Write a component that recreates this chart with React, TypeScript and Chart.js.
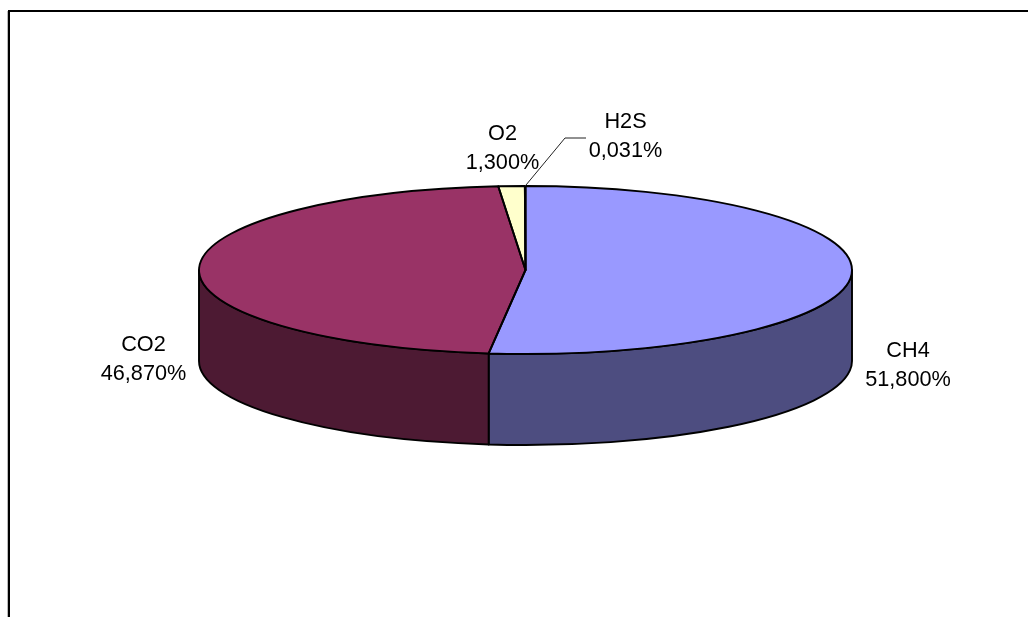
import React, { useEffect, useRef } from "react";
import { Chart, registerables } from "chart.js";

Chart.register(...registerables);

const categories = ["CH4", "CO2", "O2", "H2S"];
const percentages = [51.8, 46.87, 1.3, 0.031];
const topColours = ["#9999FF", "#993366", "#FFFFCC", "#CCFFFF"];
const wallColours = ["#4D4D80", "#4D1A33", "#80806A", "#668080"];

const PIE = { cx: 525.5, cy: 270, rx: 326.5, ry: 84, depth: 91 };
const FONT = '21.7px "Liberation Sans", Arial, sans-serif';
const LINE_GAP = 29;
const OUTLINE = 1.9;
const LABEL_CENTRES = [
  [908, 351.5],
  [143.5, 345.5],
  [502.5, 134],
  [625.5, 122.5],
];
const LEADER = [
  [565, 138],
  [586, 138],
];

const fmt = (v: number) => v.toFixed(3).replace(".", ",") + "%";

const pie3d = {
  id: "pie3d",
  beforeDatasetsDraw(chart: any) {
    const ctx = chart.ctx;
    const arcs = chart.getDatasetMeta(0).data;
    ctx.save();
    ctx.lineWidth = OUTLINE;
    ctx.strokeStyle = "#000";
    ctx.lineJoin = "round";
    // Visible outer wall: only the front half (canvas angles 0..PI)
    arcs.forEach((arc: any, i: number) => {
      const a0 = Math.max(arc.startAngle, 0);
      const a1 = Math.min(arc.endAngle, Math.PI);
      if (a1 <= a0) return;
      ctx.beginPath();
      ctx.ellipse(PIE.cx, PIE.cy, PIE.rx, PIE.ry, 0, a0, a1);
      ctx.ellipse(PIE.cx, PIE.cy + PIE.depth, PIE.rx, PIE.ry, 0, a1, a0, true);
      ctx.closePath();
      ctx.fillStyle = wallColours[i];
      ctx.fill();
      ctx.stroke();
    });
    ctx.restore();
    // Chart.js draws the slices squashed into the top ellipse
    const a = arcs[0];
    ctx.save();
    ctx.translate(PIE.cx, PIE.cy);
    ctx.scale(PIE.rx / a.outerRadius, PIE.ry / a.outerRadius);
    ctx.translate(-a.x, -a.y);
  },
  afterDatasetsDraw(chart: any) {
    const ctx = chart.ctx;
    ctx.restore();
    const arcs = chart.getDatasetMeta(0).data;
    ctx.save();
    ctx.lineWidth = OUTLINE;
    ctx.strokeStyle = "#000";
    ctx.lineJoin = "round";
    arcs.forEach((arc: any) => {
      ctx.beginPath();
      ctx.moveTo(PIE.cx, PIE.cy);
      ctx.ellipse(PIE.cx, PIE.cy, PIE.rx, PIE.ry, 0, arc.startAngle, arc.endAngle);
      ctx.closePath();
      ctx.stroke();
    });
    // Leader line from the H2S slice to its label
    const h2s = arcs[3];
    const mid = (h2s.startAngle + h2s.endAngle) / 2;
    ctx.beginPath();
    ctx.lineWidth = 1;
    ctx.strokeStyle = "#222";
    ctx.moveTo(PIE.cx + PIE.rx * Math.cos(mid), PIE.cy + PIE.ry * Math.sin(mid));
    LEADER.forEach(([x, y]) => ctx.lineTo(x, y));
    ctx.stroke();
    // Data labels
    ctx.font = FONT;
    ctx.fillStyle = "#000";
    ctx.textAlign = "center";
    ctx.textBaseline = "middle";
    categories.forEach((name, i) => {
      const [x, y] = LABEL_CENTRES[i];
      ctx.fillText(name, x, y);
      ctx.fillText(fmt(percentages[i]), x, y + LINE_GAP);
    });
    ctx.restore();
  },
};

export default function App() {
  const ref = useRef<HTMLCanvasElement | null>(null);
  useEffect(() => {
    const chart = new Chart(ref.current as HTMLCanvasElement, {
      type: "pie",
      data: {
        labels: categories,
        datasets: [
          {
            data: percentages,
            backgroundColor: topColours,
            borderWidth: 0,
            clip: false,
          } as any,
        ],
      },
      options: {
        responsive: false,
        animation: false,
        rotation: 0,
        plugins: { legend: { display: false }, tooltip: { enabled: false } },
      },
      plugins: [pie3d],
    });
    return () => chart.destroy();
  }, []);
  return (
    <div style={{ position: "fixed", left: 0, top: 0, width: 1028, height: 617, background: "#fff", overflow: "hidden" }}>
      <canvas ref={ref} width={1028} height={617} style={{ position: "absolute", left: 0, top: 0, display: "block" }} />
      <div style={{ position: "absolute", left: 8, top: 10, width: 1020, height: 2, background: "#000" }} />
      <div style={{ position: "absolute", left: 8, top: 10, width: 2, height: 607, background: "#000" }} />
      <div style={{ position: "absolute", left: 7, top: 11, width: 1, height: 606, background: "#bbb" }} />
    </div>
  );
}
